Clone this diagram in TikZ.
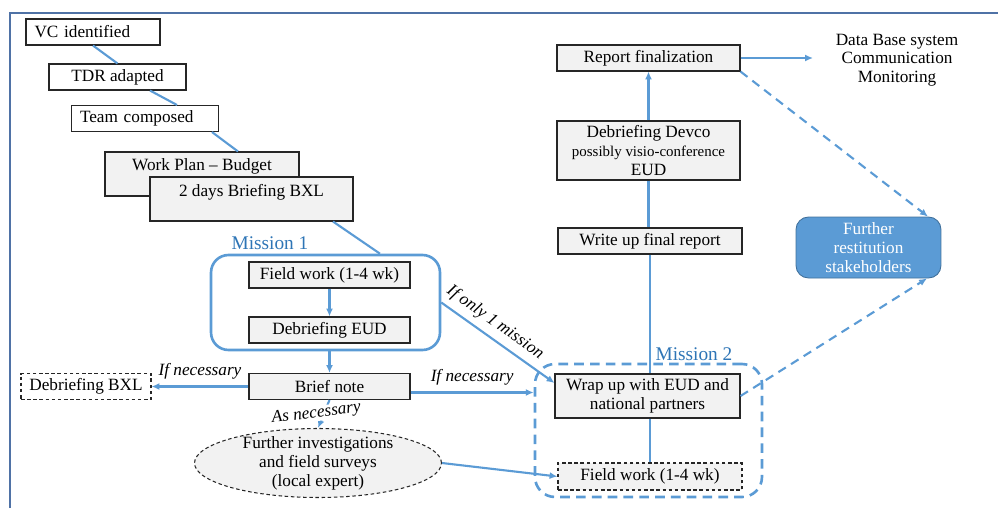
\documentclass[tikz,border=0pt]{standalone}
\usepackage{fontspec}
\setmainfont{Liberation Serif}
\usepackage{tikz}
\usetikzlibrary{arrows.meta,shapes.geometric}

\definecolor{linkblue}{HTML}{5B9BD5}
\definecolor{titleblue}{HTML}{2E75B6}
\definecolor{framecol}{HTML}{4F72A6}
\definecolor{boxgray}{HTML}{F2F2F2}
\definecolor{restedge}{HTML}{41719C}
\newcommand{\smalltxt}{\fontsize{8.5}{9.5}\selectfont}

\begin{document}
\begin{tikzpicture}[x=0.02cm, y=-0.02cm,
  font=\fontsize{9.8}{11}\selectfont,
  box/.style={draw=black!85, line width=0.6pt, fill=white, inner sep=0pt, minimum height=0.52cm, align=center},
  leftbox/.style={box, align=left, inner xsep=0.17cm},
  graybox/.style={box, fill=boxgray},
  dashbox/.style={graybox, dash pattern=on 2pt off 1.5pt},
  cond/.style={font=\fontsize{9.8}{11}\selectfont\itshape},
  mission/.style={text=titleblue, font=\fontsize{11}{13}\selectfont, inner sep=1pt},
  m1box/.style={draw=linkblue, line width=1.5pt, rounded corners=0.35cm, inner sep=0pt},
  m2box/.style={m1box, dash pattern=on 5.5pt off 3.5pt, rounded corners=0.4cm},
  restbox/.style={draw=restedge, line width=0.5pt, fill=linkblue, text=white, rounded corners=0.25cm, inner sep=0pt, align=center},
  link/.style={draw=linkblue, line width=1.2pt},
  arr/.style={link, -{Latex[length=4.5pt,width=4pt]}},
  dasharr/.style={arr, dash pattern=on 5pt off 3.5pt}]
\useasboundingbox (0,0) rectangle (998,508);

% Frame
\draw[framecol, line width=0.6pt] (10,508) -- (10,13) -- (998,13);

% Preparation
\node[leftbox, text width=2.34cm] (vc) at (93,32) {VC identified};
\node[box, minimum width=2.74cm] (tdr) at (117.5,77) {TDR adapted};
\node[leftbox, text width=2.6cm] (team) at (145,118.5) {Team composed};
\node[graybox, minimum width=3.88cm, minimum height=0.88cm] (plan) at (202,174) {Work Plan -- Budget\\[-4pt] \strut};
\node[graybox, minimum width=4.06cm, minimum height=0.88cm] (bxl) at (251.5,199) {2 days Briefing BXL\\[-4pt] \strut};

% Mission 1
\node[m1box, minimum width=4.58cm, minimum height=1.9cm] (m1) at (325.5,302.5) {};
\node[mission] (m1title) at (270,243) {Mission 1};
\node[graybox, minimum width=3.22cm] (fw1) at (329.5,275) {Field work (1-4 wk)};
\node[graybox, minimum width=3.22cm] (deud) at (329.5,330) {Debriefing EUD};
\node[graybox, minimum width=3.22cm] (brief) at (329.5,386.5) {Brief note};
\node[box, dash pattern=on 2pt off 1.5pt, minimum width=2.6cm] (debbxl) at (86,386.5) {Debriefing BXL};
\node[ellipse, draw=black!85, line width=0.6pt, dash pattern=on 2pt off 1.5pt, fill=boxgray, minimum width=4.94cm, minimum height=1.38cm, inner sep=0pt] (ell) at (318,463) {};
\node[align=center, font=\fontsize{9.8}{10.8}\selectfont] (elltext) at (ell) {Further investigations\\and field surveys\\(local expert)};

% Mission 2 and reporting
\node[m2box, minimum width=4.54cm, minimum height=2.66cm] (m2) at (648.5,430.5) {};
\node[mission] (m2title) at (694,354) {Mission 2};
\node[graybox, minimum width=3.7cm, minimum height=0.88cm] (wrap) at (647.5,396) {Wrap up with EUD and\\national partners};
\node[dashbox, minimum width=3.68cm, minimum height=0.54cm] (fw2) at (650,476.5) {Field work (1-4 wk)};
\node[graybox, minimum width=3.68cm] (writeup) at (650,241) {Write up final report};
\node[graybox, minimum width=3.66cm, minimum height=1.18cm] (devco) at (648.5,150.5) {Debriefing Devco\\\smalltxt possibly visio-conference\\EUD};
\node[graybox, minimum width=3.66cm] (report) at (648.5,58) {Report finalization};
\node[align=center, font=\fontsize{9.8}{10.6}\selectfont] (db) at (897,60) {Data Base system\\Communication\\Monitoring};
\node[restbox, minimum width=2.9cm, minimum height=1.22cm] (rest) at (868.5,247.5) {Further\\restitution\\stakeholders};
\coordinate (dbin) at (813,58);

% Connectors
\draw[link] (vc.south) -- (tdr.north);
\draw[link] ([xshift=0.65cm]tdr.south) -- ([xshift=0.64cm]team.north);
\draw[link] ([xshift=1.34cm]team.south) -- ([xshift=0.72cm]plan.north);
\draw[link] ([xshift=1.63cm]bxl.south) -- ([xshift=1.09cm]m1.north);
\draw[arr] (fw1) -- (deud);
\draw[arr] (m1.south -| brief.north) -- (brief.north);
\draw[arr] (brief.west) -- (debbxl.east) node[midway, above, cond] {If necessary};
\draw[arr] ([yshift=-0.12cm]brief.east) -- ([yshift=-0.12cm]brief.east -| m2.west) node[midway, above, cond] {If necessary};
\draw[arr] (m1.east) -- ([yshift=0.26cm]wrap.west) node[pos=0.4, sloped, above, cond] {If only 1 mission};
\draw[arr] (brief.south) -- (ell.north) node[pos=0.45, cond, fill=white, inner sep=0pt, rotate=7, xshift=-0.16cm] {As necessary};
\draw[arr] (ell.east) -- (fw2.west);
\draw[link] (fw2.north) -- (fw2.north |- wrap.south);
\draw[link] (writeup.south) -- (writeup.south |- wrap.north);
\draw[link] (devco.south) -- (devco.south |- writeup.north);
\draw[arr] (devco) -- (report);
\draw[arr] (report.east) -- (dbin);
\draw[dasharr] (report.south east) -- ([xshift=1.19cm]rest.north);
\draw[dasharr] (wrap.east) -- ([xshift=1.17cm]rest.south);
\end{tikzpicture}
\end{document}
